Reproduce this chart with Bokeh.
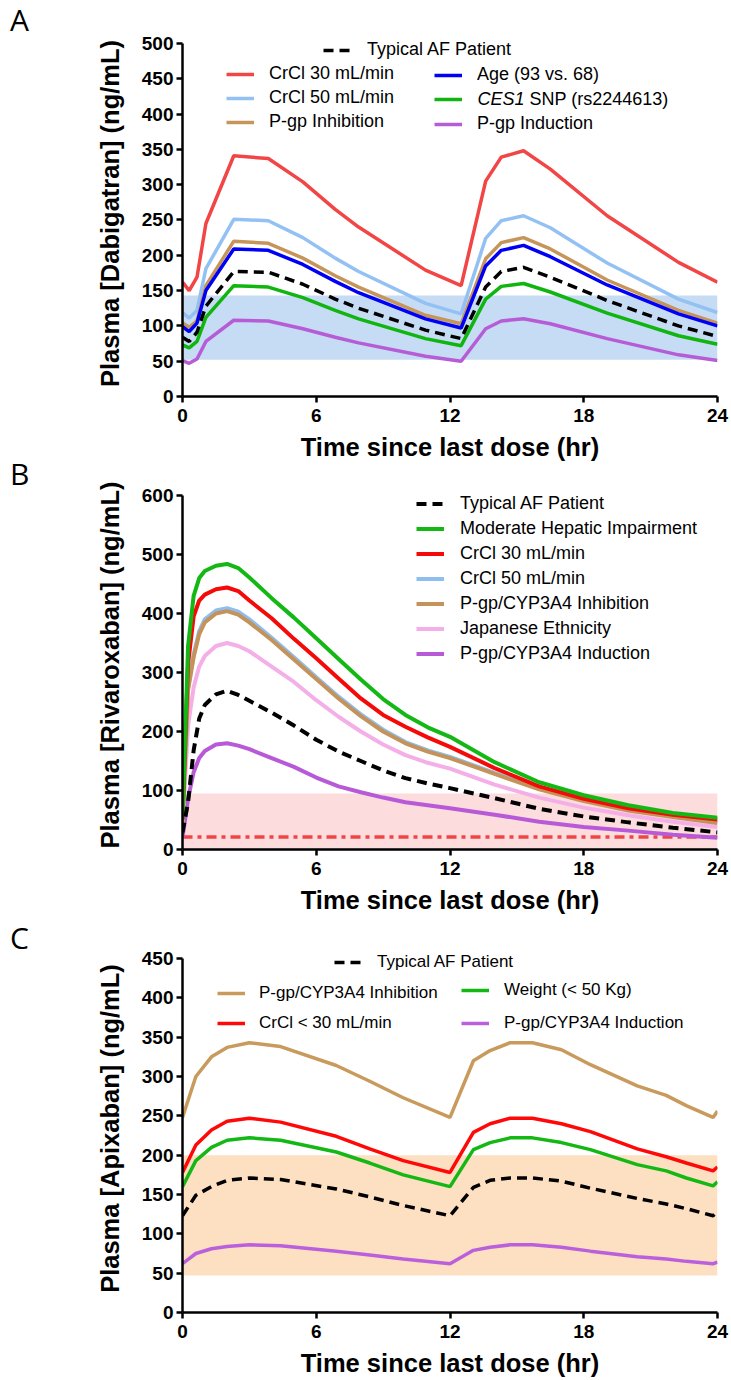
from bokeh.plotting import figure
from bokeh.models import Legend, LegendItem, Label, FixedTicker, Range1d, Div
from bokeh.layouts import column, row
from bokeh.embed import file_html
from bokeh.resources import INLINE

# ---------------- Panel A : Dabigatran ----------------
dab_time = [0, 0.3, 0.65, 1.05, 2.3, 3.85, 5.4, 6.85, 7.9, 10.9, 12.5,
            13.6, 14.3, 15.3, 16.5, 19.05, 22.25, 24]
dab_typical = [84, 78, 91, 128, 177, 176, 159, 138, 125, 94, 82, 155, 177, 183, 169, 136, 100, 85]
dab_crcl30 = [162, 150, 169, 245, 341, 337, 304, 265, 240, 179, 157, 305, 339, 348, 322, 256, 190, 162]
dab_crcl50 = [119, 111, 122, 181, 251, 249, 225, 196, 177, 132, 117, 224, 249, 256, 239, 189, 138, 119]
dab_pgp_inhib = [104, 98, 107, 157, 220, 217, 196, 171, 155, 115, 103, 195, 218, 225, 209, 165, 122, 104]
dab_age = [99, 92, 104, 150, 209, 207, 187, 163, 147, 110, 97, 185, 207, 214, 198, 158, 117, 100]
dab_ces1 = [73, 69, 78, 112, 157, 155, 140, 122, 110, 82, 72, 138, 156, 160, 148, 118, 86, 74]
dab_pgp_induc = [51, 47, 53, 78, 108, 107, 96, 84, 76, 57, 50, 96, 107, 110, 103, 82, 59, 51]
dab_range = [52, 143]

# ---------------- Panel B : Rivaroxaban ----------------
riv_time = [0, 0.25, 0.5, 0.75, 1, 1.5, 2, 2.5, 3, 4, 5, 6, 7, 8, 9, 10, 11, 12, 14, 16, 18, 20, 22, 24]
riv_typical = [29, 80, 168, 222, 245, 263, 269, 262, 252, 232, 210, 186, 166, 150, 134, 121, 112, 104, 87, 69, 56, 46, 37, 29]
riv_hepatic = [52, 345, 430, 460, 472, 481, 484, 477, 461, 426, 393, 358, 323, 288, 255, 228, 207, 191, 148, 114, 92, 75, 62, 54]
riv_crcl30 = [51, 315, 395, 422, 432, 441, 444, 438, 422, 392, 357, 324, 290, 256, 228, 208, 190, 174, 138, 107, 86, 70, 59, 51]
riv_crcl50 = [47, 275, 331, 370, 390, 405, 409, 403, 390, 359, 326, 292, 259, 229, 203, 182, 168, 157, 130, 104, 84, 68, 57, 47]
riv_inhib = [45, 270, 326, 365, 385, 400, 404, 398, 385, 355, 322, 289, 256, 226, 200, 180, 166, 155, 128, 102, 82, 66, 55, 45]
riv_japanese = [38, 210, 275, 310, 328, 345, 350, 345, 336, 310, 284, 253, 225, 200, 178, 160, 147, 137, 110, 88, 71, 58, 47, 38]
riv_induc = [20, 86, 131, 155, 167, 178, 180, 176, 170, 155, 140, 122, 107, 97, 88, 80, 75, 70, 59, 47, 38, 32, 25, 20]
riv_range = [0, 95]
riv_threshold = 21

# ---------------- Panel C : Apixaban ----------------
api_time = [0, 0.6, 1.3, 2.0, 3.0, 4.4, 6.9, 8.4, 9.9, 12.0,
            13.05, 13.8, 14.7, 15.7, 17.0, 18.3, 20.4, 21.7, 22.6, 23.8, 24]
api_typical = [123, 149, 160, 168, 171, 169, 157, 147, 136, 123, 159, 168, 171, 171, 167, 158, 145, 138, 132, 123, 128]
api_inhib = [248, 300, 325, 337, 343, 338, 314, 294, 273, 248, 320, 333, 343, 343, 334, 315, 288, 276, 263, 248, 256]
api_crcl30 = [178, 213, 232, 243, 247, 242, 224, 208, 193, 178, 229, 240, 247, 247, 240, 230, 208, 198, 190, 180, 185]
api_weight = [160, 193, 210, 219, 222, 219, 204, 190, 175, 160, 207, 216, 222, 222, 216, 207, 188, 180, 171, 161, 166]
api_induc = [62, 75, 81, 84, 86, 85, 78, 73, 68, 62, 79, 83, 86, 86, 83, 78, 71, 68, 65, 62, 64]
api_range = [47, 200]

x_ticks = [0, 6, 12, 18, 24]
x_span = [0, 24]
panel_letters = ["A", "B", "C"]

FONT = "Liberation Sans"
STRIP = 40            # width of the left strip holding the panel letters
LEFT = 182 - STRIP
RIGHT = 14


def make_fig(height, top, bottom, ymax, yend, ystep, ylabel):
    p = figure(width=731 - STRIP, height=height, x_range=Range1d(0, 24), y_range=Range1d(0, yend),
               output_backend="svg", toolbar_location=None,
               min_border_left=LEFT, min_border_right=RIGHT,
               min_border_top=top, min_border_bottom=bottom)
    p.xgrid.visible = False
    p.ygrid.visible = False
    p.outline_line_color = None
    p.xaxis.ticker = FixedTicker(ticks=x_ticks)
    p.yaxis.ticker = FixedTicker(ticks=list(range(0, ymax + 1, ystep)))
    p.yaxis.bounds = (0, ymax)
    for ax in (p.xaxis[0], p.yaxis[0]):
        ax.axis_line_width = 2.5
        ax.axis_line_color = "black"
        ax.major_tick_line_width = 2.5
        ax.major_tick_line_color = "black"
        ax.major_tick_in = 0
        ax.major_tick_out = 6
        ax.minor_tick_out = 0
        ax.minor_tick_in = 0
        ax.major_label_text_font = FONT
        ax.major_label_text_font_style = "bold"
        ax.major_label_text_font_size = "19px"
        ax.major_label_text_color = "black"
        ax.axis_label_text_font = FONT
        ax.axis_label_text_font_style = "bold"
        ax.axis_label_text_font_size = "25.5px"
        ax.axis_label_text_color = "black"
    p.xaxis.axis_label = "Time since last dose (hr)"
    p.yaxis.axis_label = ylabel
    p.xaxis.major_label_standoff = 6
    p.yaxis.major_label_standoff = 3
    p.xaxis.axis_label_standoff = 8
    p.yaxis.axis_label_standoff = 15
    return p


def add_legend(p, items, x, y_bottom, glyph_h, spacing, standoff, size):
    leg = Legend(items=items, location=(x, y_bottom), orientation="vertical",
                 background_fill_alpha=0, border_line_alpha=0,
                 padding=0, margin=0, glyph_width=28, glyph_height=glyph_h,
                 label_height=glyph_h, spacing=spacing, label_standoff=standoff,
                 label_text_font=FONT, label_text_font_size=size,
                 label_text_color="black")
    p.add_layout(leg)
    return leg


# ---------------- Figure A ----------------
pA = make_fig(465, 30, 69, 500, 518.4, 50, "Plasma [Dabigatran] (ng/mL)")
pA.quad(left=x_span[0], right=x_span[1], bottom=dab_range[0], top=dab_range[1],
        fill_color="#C6DCF5", line_color=None)
W = 3.5
rA_red = pA.line(dab_time, dab_crcl30, line_color="#F24545", line_width=W)
rA_lb = pA.line(dab_time, dab_crcl50, line_color="#93C1F3", line_width=W)
rA_br = pA.line(dab_time, dab_pgp_inhib, line_color="#C6955A", line_width=W)
rA_bl = pA.line(dab_time, dab_age, line_color="#0000F5", line_width=W)
rA_gr = pA.line(dab_time, dab_ces1, line_color="#10B510", line_width=W)
rA_pu = pA.line(dab_time, dab_pgp_induc, line_color="#B65CD6", line_width=W)
rA_ty = pA.line(dab_time, dab_typical, line_color="black", line_width=W, line_dash="10 6")

add_legend(pA, [LegendItem(label="Typical AF Patient", renderers=[rA_ty])],
           141, 336, 20, 4, 16, "18px")
add_legend(pA, [LegendItem(label="CrCl 30 mL/min", renderers=[rA_red]),
                LegendItem(label="CrCl 50 mL/min", renderers=[rA_lb]),
                LegendItem(label="P-gp Inhibition", renderers=[rA_br])],
           44, 264, 20, 3, 15, "18px")
add_legend(pA, [LegendItem(label="Age (93 vs. 68)", renderers=[rA_bl]),
                LegendItem(label=" ", renderers=[rA_gr]),
                LegendItem(label="P-gp Induction", renderers=[rA_pu])],
           252, 262, 20, 4, 15, "18px")
pA.add_layout(Label(x=295, y=298, x_units="screen", y_units="screen", text="CES1",
                    text_font=FONT, text_font_size="18px", text_font_style="italic",
                    text_baseline="middle", text_color="black"))
pA.add_layout(Label(x=347, y=298, x_units="screen", y_units="screen", text="SNP (rs2244613)",
                    text_font=FONT, text_font_size="18px",
                    text_baseline="middle", text_color="black"))

# ---------------- Figure B ----------------
pB = make_fig(465, 15, 81, 600, 625.4, 100, "Plasma [Rivaroxaban] (ng/mL)")
pB.quad(left=x_span[0], right=x_span[1], bottom=riv_range[0], top=riv_range[1],
        fill_color="#FCDCDC", line_color=None)
pB.line(x_span, [riv_threshold, riv_threshold], line_color="#F04545", line_width=3.5,
        line_dash="10 5 4 5")
WB = 4
rB_pu = pB.line(riv_time, riv_induc, line_color="#B85AD8", line_width=WB)
rB_pk = pB.line(riv_time, riv_japanese, line_color="#F5AFE8", line_width=WB)
rB_lb = pB.line(riv_time, riv_crcl50, line_color="#8EBDF0", line_width=WB)
rB_br = pB.line(riv_time, riv_inhib, line_color="#C4935A", line_width=WB)
rB_red = pB.line(riv_time, riv_crcl30, line_color="#F50A0A", line_width=WB)
rB_gr = pB.line(riv_time, riv_hepatic, line_color="#14B814", line_width=WB)
rB_ty = pB.line(riv_time, riv_typical, line_color="black", line_width=WB, line_dash="10 6")

add_legend(pB, [LegendItem(label="Typical AF Patient", renderers=[rB_ty]),
                LegendItem(label="Moderate Hepatic Impairment", renderers=[rB_gr]),
                LegendItem(label="CrCl 30 mL/min", renderers=[rB_red]),
                LegendItem(label="CrCl 50 mL/min", renderers=[rB_lb]),
                LegendItem(label="P-gp/CYP3A4 Inhibition", renderers=[rB_br]),
                LegendItem(label="Japanese Ethnicity", renderers=[rB_pk]),
                LegendItem(label="P-gp/CYP3A4 Induction", renderers=[rB_pu])],
           234, 185, 21, 4, 16, "18px")

# ---------------- Figure C ----------------
pC = make_fig(450, 14, 68, 450, 467.8, 50, "Plasma [Apixaban] (ng/mL)")
pC.quad(left=x_span[0], right=x_span[1], bottom=api_range[0], top=api_range[1],
        fill_color="#FDDFC1", line_color=None)
WC = 3.5
rC_br = pC.line(api_time, api_inhib, line_color="#C89A5C", line_width=WC)
rC_red = pC.line(api_time, api_crcl30, line_color="#FF0808", line_width=WC)
rC_gr = pC.line(api_time, api_weight, line_color="#14B814", line_width=WC)
rC_pu = pC.line(api_time, api_induc, line_color="#BB60DC", line_width=WC)
rC_ty = pC.line(api_time, api_typical, line_color="black", line_width=WC, line_dash="10 6")

add_legend(pC, [LegendItem(label="Typical AF Patient", renderers=[rC_ty])],
           152, 340, 20, 4, 15, "17px")
add_legend(pC, [LegendItem(label="P-gp/CYP3A4 Inhibition", renderers=[rC_br]),
                LegendItem(label="CrCl < 30 mL/min", renderers=[rC_red])],
           35, 279, 20, 10, 14, "17px")
add_legend(pC, [LegendItem(label="Weight (< 50 Kg)", renderers=[rC_gr]),
                LegendItem(label="P-gp/CYP3A4 Induction", renderers=[rC_pu])],
           279, 279, 20, 13, 15, "17px")

# ---------------- panel letters (left strip) ----------------
letter_tops = [5, 459, 923]
letters_html = '<div style="position:relative;width:%dpx;height:1380px;">' % STRIP
for letter, top in zip(panel_letters, letter_tops):
    letters_html += ('<div style="position:absolute;left:10px;top:%dpx;font-family:\'Open Sans\';'
                     'font-size:30px;line-height:30px;color:black;">%s</div>' % (top, letter))
letters_html += '</div>'
strip = Div(text=letters_html, width=STRIP, height=1380, margin=0)

layout = row(strip, column(pA, pB, pC, spacing=0), spacing=0)
open("out.html", "w").write(file_html(layout, INLINE))
